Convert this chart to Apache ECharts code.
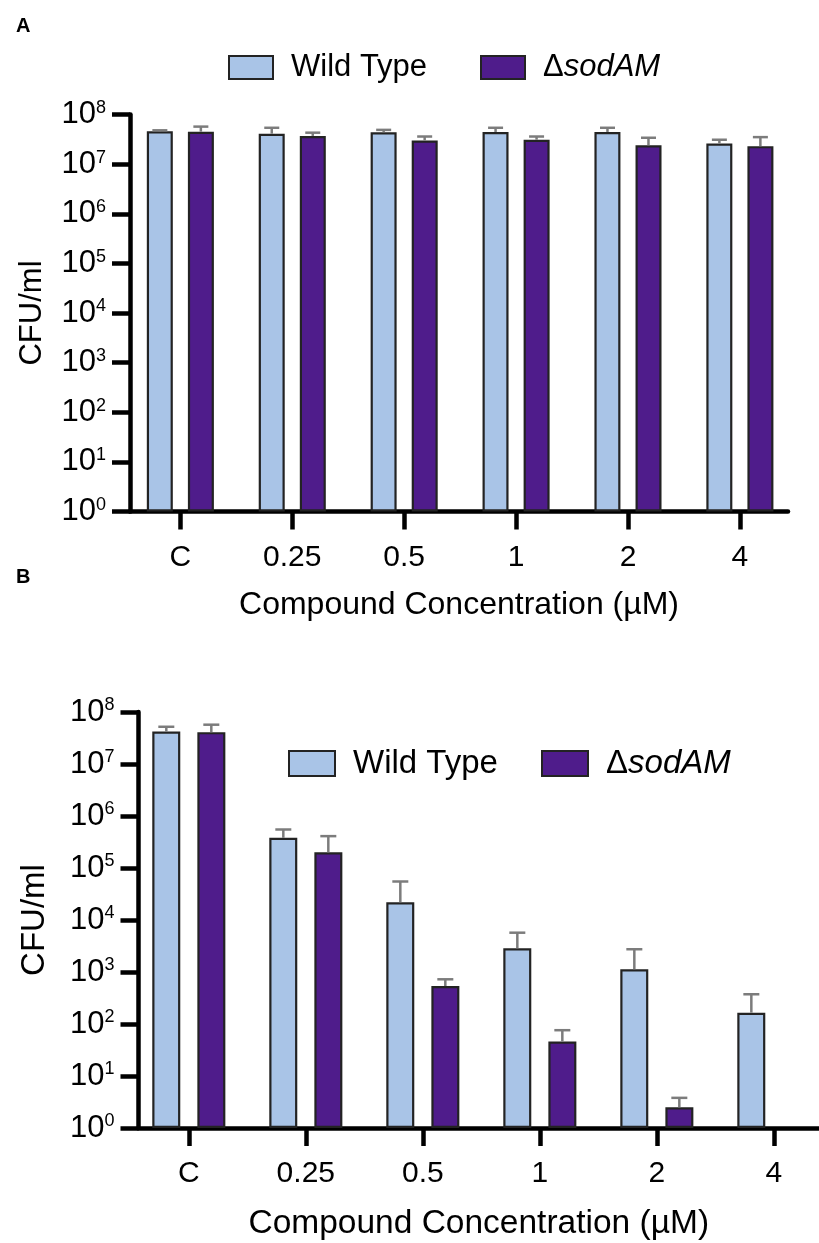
<!DOCTYPE html>
<html>
<head>
<meta charset="utf-8">
<script src="https://cdn.jsdelivr.net/npm/echarts@6/dist/echarts.min.js"></script>
<style>
  html, body { margin: 0; padding: 0; background: #ffffff; }
  #chart { width: 819px; height: 1243px; }
</style>
</head>
<body>
<div id="chart"></div>
<script>
// Compound concentrations (µM); "C" is the untreated control
const concentrations = ['C', '0.25', '0.5', '1', '2', '4'];
// Log-axis decades shown as 10^n tick labels
const decades = [0, 1, 2, 3, 4, 5, 6, 7, 8];

// Panel A: CFU/ml mean and upper end of the error bar
const wildTypeA      = [4.6e7, 4.1e7, 4.4e7, 4.45e7, 4.45e7, 2.6e7];
const wildTypeAUpper = [4.8e7, 5.4e7, 4.9e7, 5.4e7, 5.4e7, 3.1e7];
const sodAMA         = [4.5e7, 3.7e7, 3.0e7, 3.1e7, 2.4e7, 2.3e7];
const sodAMAUpper    = [5.7e7, 4.3e7, 3.6e7, 3.6e7, 3.4e7, 3.5e7];

// Panel B: CFU/ml mean and upper end of the error bar (no ΔsodAM growth at 4 µM)
const wildTypeB      = [4.2e7, 3.8e5, 2.2e4, 2860, 1130, 165];
const wildTypeBUpper = [5.2e7, 5.5e5, 5.5e4, 5700, 2740, 373];
const sodAMB         = [4.1e7, 2.0e5, 537, 46, 2.5, null];
const sodAMBUpper    = [5.7e7, 4.1e5, 724, 76, 3.8, null];

const FONT = '"Liberation Sans", Arial, Helvetica, sans-serif';
const WT_COLOR = '#a9c4e7';
const SOD_COLOR = '#4f1c8b';
const EDGE = '#232323';
const ERR = '#7c7c7c';

const chart = echarts.init(document.getElementById('chart'), null, { renderer: 'canvas' });

function pairs(values) {
  const out = [];
  values.forEach((v, i) => { if (v != null) out.push([i, v]); });
  return out;
}
function triples(values, uppers) {
  const out = [];
  values.forEach((v, i) => { if (v != null) out.push([i, v, uppers[i]]); });
  return out;
}

function barSeries(name, idx, values, color, barWidth, barGap) {
  return {
    type: 'bar', name: name,
    xAxisIndex: idx, yAxisIndex: idx,
    data: pairs(values),
    barWidth: barWidth, barGap: barGap,
    itemStyle: { color: color, borderColor: EDGE, borderWidth: 2.2 },
    emphasis: { disabled: true },
    z: 2
  };
}

// Upper-only error bars with a cap, shifted sideways onto their bar
function errorSeries(idx, values, uppers, dx, cap) {
  return {
    type: 'custom',
    xAxisIndex: idx, yAxisIndex: idx,
    data: triples(values, uppers),
    silent: true, z: 5,
    renderItem: function (params, api) {
      const x = api.value(0);
      const top = api.coord([x, api.value(1)]);
      const up = api.coord([x, api.value(2)]);
      const cx = top[0] + dx;
      const st = { stroke: ERR, lineWidth: 2.5 };
      return {
        type: 'group',
        children: [
          { type: 'line', shape: { x1: cx, y1: top[1], x2: cx, y2: up[1] }, style: st },
          { type: 'line', shape: { x1: cx - cap / 2, y1: up[1], x2: cx + cap / 2, y2: up[1] }, style: st }
        ]
      };
    }
  };
}

function xAxis(idx, min, max, nameSize, nameGap) {
  return {
    type: 'value', gridIndex: idx, min: min, max: max,
    axisLine: { show: true, onZero: false, lineStyle: { color: '#000', width: 4.5 } },
    axisTick: { show: true, length: 18, customValues: concentrations.map((c, i) => i),
                lineStyle: { color: '#000', width: 4.5 } },
    axisLabel: { show: true, margin: 31, customValues: concentrations.map((c, i) => i),
                 formatter: v => concentrations[Math.round(v)],
                 color: '#000', fontSize: 30, fontFamily: FONT },
    splitLine: { show: false },
    name: 'Compound Concentration (µM)', nameLocation: 'middle', nameGap: nameGap,
    nameTextStyle: { color: '#000', fontSize: nameSize, fontFamily: FONT }
  };
}

function yAxis(idx, nameSize, nameGap) {
  return {
    type: 'log', gridIndex: idx, logBase: 10, min: 1, max: 1e8, interval: 1,
    axisLine: { show: true, onZero: false, lineStyle: { color: '#000', width: 4.5 } },
    axisTick: { show: true, length: 18, lineStyle: { color: '#000', width: 4.5 } },
    splitLine: { show: false },
    axisLabel: {
      margin: 24,
      formatter: v => {
        const e = Math.round(Math.log10(v));
        return decades.indexOf(e) >= 0 ? '{b|10}{s|' + e + '}' : '';
      },
      rich: {
        b: { fontSize: 31, fontFamily: FONT, color: '#000', lineHeight: 31 },
        s: { fontSize: 18, fontFamily: FONT, color: '#000', verticalAlign: 'top', lineHeight: 16 }
      }
    },
    name: 'CFU/ml', nameLocation: 'middle', nameGap: nameGap, nameRotate: 90,
    nameTextStyle: { color: '#000', fontSize: nameSize, fontFamily: FONT }
  };
}

function legend(left, top, name, w, h, size) {
  return {
    left: left, top: top, orient: 'horizontal', data: [name], icon: 'rect',
    itemWidth: w, itemHeight: h, selectedMode: false,
    formatter: n => n === 'ΔsodAM' ? '{u|Δ}{i|sodAM}' : n,
    textStyle: {
      color: '#000', fontSize: size, fontFamily: FONT, padding: [0, 0, 0, 13],
      rich: {
        u: { fontSize: size, fontFamily: FONT, color: '#000' },
        i: { fontSize: size, fontFamily: FONT, color: '#000', fontStyle: 'italic' }
      }
    }
  };
}

chart.setOption({
  animation: false,
  backgroundColor: '#ffffff',
  title: [
    { text: 'A', left: 11, top: 11, textStyle: { fontSize: 20, fontWeight: 'bold', fontFamily: FONT, color: '#000' } },
    { text: 'B', left: 11, top: 562, textStyle: { fontSize: 20, fontWeight: 'bold', fontFamily: FONT, color: '#000' } }
  ],
  legend: [
    legend(223, 47, 'Wild Type', 44, 23, 31),
    legend(475, 47, 'ΔsodAM', 44, 23, 31),
    legend(283, 742, 'Wild Type', 46, 25, 33),
    legend(536, 742, 'ΔsodAM', 46, 25, 33)
  ],
  grid: [
    { left: 130, top: 114.5, width: 658, height: 397 },
    { left: 138.5, top: 712, width: 680.5, height: 416 }
  ],
  xAxis: [
    xAxis(0, -0.45, 5.43, 32, 78),
    xAxis(1, -0.43, 5.386, 33.5, 79)
  ],
  yAxis: [
    yAxis(0, 31, 82),
    yAxis(1, 33, 87)
  ],
  series: [
    barSeries('Wild Type', 0, wildTypeA, WT_COLOR, 26, '58%'),
    barSeries('ΔsodAM', 0, sodAMA, SOD_COLOR, 26, '58%'),
    errorSeries(0, wildTypeA, wildTypeAUpper, -20.5, 15),
    errorSeries(0, sodAMA, sodAMAUpper, 20.5, 15),
    barSeries('Wild Type', 1, wildTypeB, WT_COLOR, 28, '61%'),
    barSeries('ΔsodAM', 1, sodAMB, SOD_COLOR, 28, '61%'),
    errorSeries(1, wildTypeB, wildTypeBUpper, -22.5, 16),
    errorSeries(1, sodAMB, sodAMBUpper, 22.5, 16)
  ]
});
</script>
</body>
</html>
